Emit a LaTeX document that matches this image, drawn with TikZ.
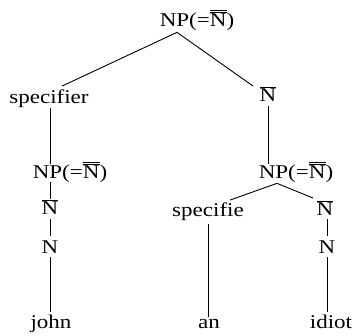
\documentclass[tikz,border=0pt]{standalone}
\usepackage{fontspec}
\setmainfont{Liberation Serif}
\newcommand{\Nbar}{$\overline{\mbox{N}}$}
\newcommand{\Nbb}{$\overline{\overline{\mbox{N}}}$}
\begin{document}
\begin{tikzpicture}[x=1pt,y=-1pt,
  lbl/.style={inner sep=0pt, anchor=base, font=\fontsize{19.5}{22}\selectfont, xscale=1.18},
  edge/.style={line width=0.9pt}]
\useasboundingbox (0,0) rectangle (356,335);
% nodes
\node[lbl] (root) at (197,26) {NP(=\Nbb)};
\node[lbl] (spec1) at (49,103) {specifier};
\node[lbl] (nb1) at (268,101) {\Nbar};
\node[lbl] (np1) at (70,178) {NP(=\Nbb)};
\node[lbl] (np2) at (296,178) {NP(=\Nbb)};
\node[lbl] (nb2) at (50,214) {\Nbar};
\node[lbl] (spec2) at (208,216) {specifie};
\node[lbl] (nb3) at (325,215) {\Nbar};
\node[lbl] (n1) at (50,253) {N};
\node[lbl] (n2) at (327,253) {N};
\node[lbl] (john) at (51,328) {john};
\node[lbl] (an) at (209,328) {an};
\node[lbl] (idiot) at (331,328) {idiot};
% connectors
\coordinate (rapex) at ([xshift=-20pt,yshift=-2pt]root.south);
\draw[edge] (rapex) -- ([xshift=13pt,yshift=3pt]spec1.north);
\draw[edge] (rapex) -- ([xshift=-15pt]nb1.north);
\draw[edge] ([yshift=-1pt]spec1.south -| nb2.north) -- ([yshift=-3pt]np1.north -| nb2.north);
\draw[edge] (np1.south -| nb2.north) -- (nb2.north);
\draw[edge] ([yshift=-5pt]nb2.south) -- ([yshift=4pt]n1.north);
\draw[edge] ([yshift=-4pt]n1.south) -- ([yshift=2pt]john.north -| n1.south);
\draw[edge] ([yshift=-5pt]nb1.south) -- ([yshift=-3pt]np2.north -| nb1.south);
\coordinate (lapex) at ([xshift=-19pt,yshift=-1pt]np2.south);
\draw[edge] (lapex) -- ([xshift=22pt,yshift=2pt]spec2.north);
\draw[edge] (lapex) -- ([xshift=-12pt,yshift=2pt]nb3.north);
\draw[edge] ([yshift=-4pt]spec2.south) -- ([yshift=2pt]an.north -| spec2.south);
\draw[edge] ([yshift=-4pt]nb3.south -| n2.north) -- ([yshift=4pt]n2.north);
\draw[edge] ([yshift=-4pt]n2.south) -- ([yshift=2pt]idiot.north -| n2.south);
\end{tikzpicture}
\end{document}
